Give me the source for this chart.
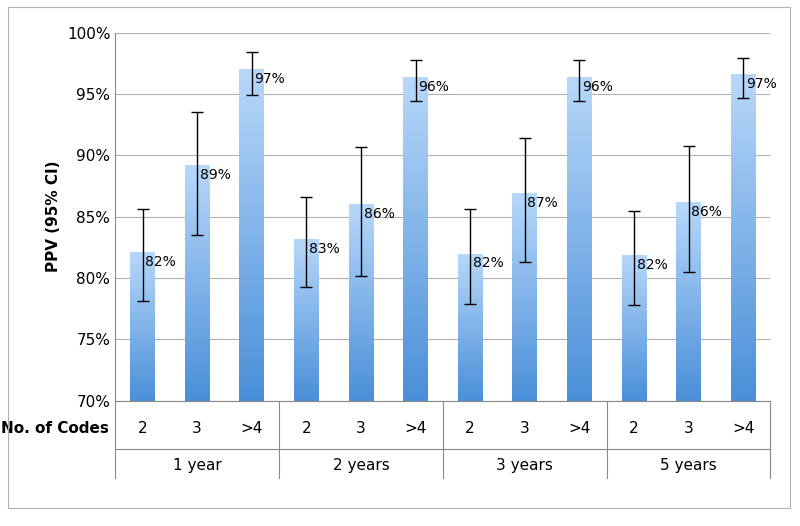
import numpy as np, pandas as pd, seaborn as sns, matplotlib
matplotlib.use("Agg")
import matplotlib.pyplot as plt
from matplotlib.colors import LinearSegmentedColormap

groups = ["1 year", "2 years", "3 years", "5 years"]
codes = ["2", "3", ">4"]
ppv = [82.1, 89.2, 97.0, 83.2, 86.0, 96.4, 82.0, 86.9, 96.4, 81.9, 86.2, 96.6]
lo = [78.1, 83.5, 94.9, 79.3, 80.2, 94.4, 77.9, 81.3, 94.4, 77.8, 80.5, 94.7]
hi = [85.6, 93.5, 98.4, 86.6, 90.7, 97.8, 85.6, 91.4, 97.8, 85.5, 90.8, 97.9]
labels = ["82%", "89%", "97%", "83%", "86%", "96%", "82%", "87%", "96%", "82%", "86%", "97%"]

df = pd.DataFrame({"pos": range(12), "ppv": ppv})
fig = plt.figure(figsize=(8, 5.26), dpi=100)
fig.patches.append(plt.Rectangle((0.01, 0.034), 0.978, 0.952, transform=fig.transFigure,
                                 fill=False, ec="#b0b0b0", lw=0.8))
ax = fig.add_axes([0.144, 0.238, 0.819, 0.700])
sns.barplot(data=df, x="pos", y="ppv", ax=ax, width=0.45, color="#6aa8e8", errorbar=None)
ax.set_ylim(70, 100)
ax.set_xlim(-0.5, 11.5)
cmap = LinearSegmentedColormap.from_list("g", ["#4a8fd8", "#b8d8fa"])
grad = np.linspace(0, 1, 256).reshape(-1, 1)
for p in ax.patches:
    x0, w, h = p.get_x(), p.get_width(), p.get_height()
    im = ax.imshow(grad, cmap=cmap, origin="lower", aspect="auto",
                   extent=[x0, x0 + w, 70, h], zorder=2)
    im.set_clip_path(p)
    p.set_alpha(0)
ax.set_xlim(-0.5, 11.5); ax.set_ylim(70, 100)
ax.errorbar(range(12), ppv, yerr=[np.array(ppv) - lo, np.array(hi) - ppv], fmt="none",
            ecolor="black", elinewidth=1, capsize=4, zorder=3)
for i, (v, t) in enumerate(zip(ppv, labels)):
    ax.text(i + 0.05, min(v - 0.8, 99.6), t, fontsize=10, va="center", ha="left", zorder=4)
ax.yaxis.grid(True, color="#b0b0b0", lw=0.8)
ax.set_axisbelow(True)
ax.set_yticks(range(70, 101, 5))
ax.set_yticklabels([f"{t}%" for t in range(70, 101, 5)], fontsize=11)
ax.set_ylabel("PPV (95% CI)", fontsize=11, fontweight="bold")
ax.set_xlabel("")
ax.set_xticks([])
for s in ["top", "right"]:
    ax.spines[s].set_visible(False)
ax.spines["left"].set_color("#888888"); ax.spines["bottom"].set_color("#888888")
ax.tick_params(axis="y", length=0)
tr = ax.get_xaxis_transform()
for i in range(12):
    ax.text(i, -0.075, codes[i % 3], transform=tr, ha="center", va="center", fontsize=11)
ax.text(-0.62, -0.075, "No. of Codes", transform=tr, ha="right", va="center", fontsize=11, fontweight="bold")
for g, name in enumerate(groups):
    ax.text(g * 3 + 1, -0.175, name, transform=tr, ha="center", va="center", fontsize=11)
for b in [-0.5, 2.5, 5.5, 8.5, 11.5]:
    ax.plot([b, b], [0, -0.21], transform=tr, color="#888888", lw=0.8, clip_on=False)
ax.plot([-0.5, 11.5], [-0.13, -0.13], transform=tr, color="#888888", lw=0.8, clip_on=False)
fig.savefig("out.png", dpi=100)
